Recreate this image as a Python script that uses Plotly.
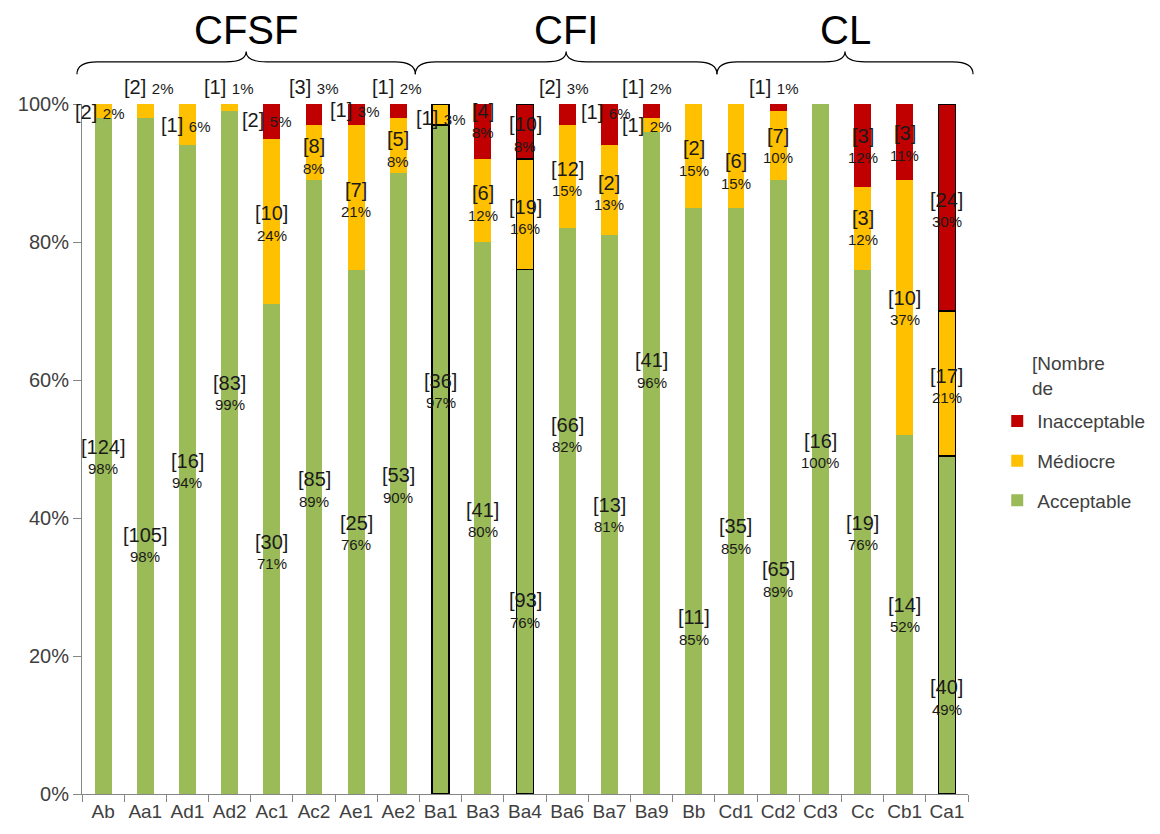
import plotly.graph_objects as go

categories = ["Ab", "Aa1", "Ad1", "Ad2", "Ac1", "Ac2", "Ae1", "Ae2", "Ba1", "Ba3", "Ba4",
              "Ba6", "Ba7", "Ba9", "Bb", "Cd1", "Cd2", "Cd3", "Cc", "Cb1", "Ca1"]

# percentages per class
acceptable_pct = [98, 98, 94, 99, 71, 89, 76, 90, 97, 80, 76, 82, 81, 96, 85, 85, 89, 100, 76, 52, 49]
mediocre_pct = [2, 2, 6, 1, 24, 8, 21, 8, 3, 12, 16, 15, 13, 2, 15, 15, 10, 0, 12, 37, 21]
inacceptable_pct = [0, 0, 0, 0, 5, 3, 3, 2, 0, 8, 8, 3, 6, 2, 0, 0, 1, 0, 12, 11, 30]

# counts per class
acceptable_n = [124, 105, 16, 83, 30, 85, 25, 53, 36, 41, 93, 66, 13, 41, 11, 35, 65, 16, 19, 14, 40]
mediocre_n = [2, 2, 1, 1, 10, 8, 7, 5, 1, 6, 19, 12, 2, 1, 2, 6, 7, 0, 3, 10, 17]
inacceptable_n = [0, 0, 0, 0, 2, 3, 1, 1, 0, 4, 10, 2, 1, 1, 0, 0, 1, 0, 3, 3, 24]

groups = ["CFSF", "CFI", "CL"]
group_sizes = [8, 7, 6]

outlined = ["Ba1", "Ba4", "Ca1"]

# ---- label placement (positions / styles, not data) ----
# y position in % axis units, one-line flag, x shift in px
acc_label_y = [48.7, 36, 46.7, 58, 35, 44, 37.7, 44.6, 58.3, 39.6, 26.5, 51.9, 40.3, 61.3,
               24, 37.2, 31, 49.6, 37.7, 25.8, 13.9]
med_label_pos = {
    "Ab": (98.8, True, -4), "Aa1": (102.5, True, 3), "Ad1": (97, True, -2), "Ad2": (102.5, True, -1),
    "Ac1": (82.6, False, 0), "Ac2": (92.3, False, 0), "Ae1": (86, False, 0), "Ae2": (93.3, False, 0),
    "Ba1": (98, True, 0), "Ba3": (85.5, False, 0), "Ba4": (83.5, False, 0), "Ba6": (89, False, 0),
    "Ba7": (87, False, 0), "Ba9": (97, True, -5), "Bb": (92, False, 0), "Cd1": (90.1, False, 0),
    "Cd2": (93.8, False, 0), "Cc": (81.9, False, 0), "Cb1": (70.3, False, 0), "Ca1": (59, False, 0),
}
inac_label_pos = {
    "Ac1": (97.7, True, -5), "Ac2": (102.5, True, -1), "Ae1": (99.1, True, -2), "Ae2": (102.5, True, -2),
    "Ba3": (97.4, False, 0), "Ba4": (95.5, False, 0), "Ba6": (102.5, True, -4), "Ba7": (98.8, True, -4),
    "Ba9": (102.5, True, -5), "Cd2": (102.5, True, -5), "Cc": (93.8, False, 0), "Cb1": (94.2, False, 0),
    "Ca1": (84.5, False, 0),
}

FONT = "Liberation Sans, Arial, sans-serif"
COLORS = {"Acceptable": "#9BBB59", "Médiocre": "#FFC000", "Inacceptable": "#C00000"}
RANKS = {"Inacceptable": 1, "Médiocre": 2, "Acceptable": 3}
LBL = "#1a1a1a"

line_w = [1.6 if c in outlined else 0 for c in categories]

fig = go.Figure()
series = [("Acceptable", acceptable_pct), ("Médiocre", mediocre_pct), ("Inacceptable", inacceptable_pct)]
for name, vals in series:
    fig.add_trace(go.Bar(
        x=categories,
        y=[v if v > 0 else None for v in vals],
        name=name,
        legendgroup=name,
        legendrank=RANKS[name],
        marker=dict(color=COLORS[name], line=dict(color="black", width=line_w)),
        hoverinfo="x+y+name",
    ))

annotations = []
YMAX = 100.0


def add_label(cat, n, p, y, one_line, xshift):
    yp = y / YMAX
    if one_line:
        annotations.append(dict(x=cat, y=yp, xref="x", yref="paper",
                                text=f"[{n}] <span style='font-size:15px'>{p}%</span>",
                                showarrow=False, xshift=xshift, yanchor="middle", xanchor="center",
                                font=dict(family=FONT, size=20, color=LBL)))
    else:
        annotations.append(dict(x=cat, y=yp, xref="x", yref="paper", text=f"[{n}]",
                                showarrow=False, xshift=xshift, yshift=11, yanchor="middle",
                                xanchor="center", font=dict(family=FONT, size=20, color=LBL)))
        annotations.append(dict(x=cat, y=yp, xref="x", yref="paper", text=f"{p}%",
                                showarrow=False, xshift=xshift, yshift=-11, yanchor="middle",
                                xanchor="center", font=dict(family=FONT, size=15, color=LBL)))


for i, c in enumerate(categories):
    add_label(c, acceptable_n[i], acceptable_pct[i], acc_label_y[i], False, 0)
    if c in med_label_pos and mediocre_n[i] > 0:
        y, one, xs = med_label_pos[c]
        add_label(c, mediocre_n[i], mediocre_pct[i], y, one, xs)
    if c in inac_label_pos and inacceptable_n[i] > 0:
        y, one, xs = inac_label_pos[c]
        add_label(c, inacceptable_n[i], inacceptable_pct[i], y, one, xs)

# ---- group braces ----
ncat = len(categories)
brace_edges = [-0.62, 7.4, 14.55, 20.62]
yE, yL, yT = 1.043, 1.061, 1.076
r = 0.023
shapes = []


def px(idx):
    return (idx + 0.5) / ncat


for g in range(len(groups)):
    x0 = px(brace_edges[g])
    x1 = px(brace_edges[g + 1])
    xm = (x0 + x1) / 2
    path = (f"M {x0},{yE} Q {x0},{yL} {x0 + r},{yL} L {xm - r},{yL} Q {xm},{yL} {xm},{yT} "
            f"Q {xm},{yL} {xm + r},{yL} L {x1 - r},{yL} Q {x1},{yL} {x1},{yE}")
    shapes.append(dict(type="path", path=path, xref="paper", yref="paper",
                       line=dict(color="black", width=1.2)))
    annotations.append(dict(x=xm, y=1.107, xref="paper", yref="paper", text=groups[g],
                            showarrow=False, yanchor="middle", xanchor="center",
                            font=dict(family=FONT, size=40, color="black")))

# legend title as free text
annotations.append(dict(x=1.07, y=0.642, xref="paper", yref="paper", text="[Nombre<br>de",
                        showarrow=False, xanchor="left", yanchor="top", align="left",
                        font=dict(family=FONT, size=19, color="#404040")))

fig.update_layout(
    width=1160, height=834,
    margin=dict(l=74, r=200, t=96, b=48, autoexpand=False),
    barmode="stack",
    bargap=0.6,
    plot_bgcolor="white",
    paper_bgcolor="white",
    font=dict(family=FONT, size=19, color="#404040"),
    annotations=annotations,
    shapes=shapes,
    legend=dict(
        x=1.033, y=0.568, xanchor="left", yanchor="top",
        traceorder="grouped",
        font=dict(family=FONT, size=19, color="#404040"),
        tracegroupgap=12,
        itemwidth=30,
    ),
    xaxis=dict(
        type="category", automargin=False, tickangle=0,
        range=[-0.5, len(categories) - 0.5],
        showline=True, linecolor="#868686", linewidth=1,
        ticks="outside", tickson="boundaries", ticklen=7, tickcolor="#868686",
        tickfont=dict(family=FONT, size=19, color="#404040"),
        showgrid=False,
    ),
    yaxis=dict(
        range=[0, YMAX], automargin=False,
        tickvals=[0, 20, 40, 60, 80, 100],
        ticktext=["0%", "20%", "40%", "60%", "80%", "100%"],
        showline=True, linecolor="#868686", linewidth=1,
        ticks="outside", ticklen=8, tickcolor="#868686",
        tickfont=dict(family=FONT, size=20, color="#404040"),
        showgrid=False, zeroline=False,
    ),
)

fig.write_html("out.html")
